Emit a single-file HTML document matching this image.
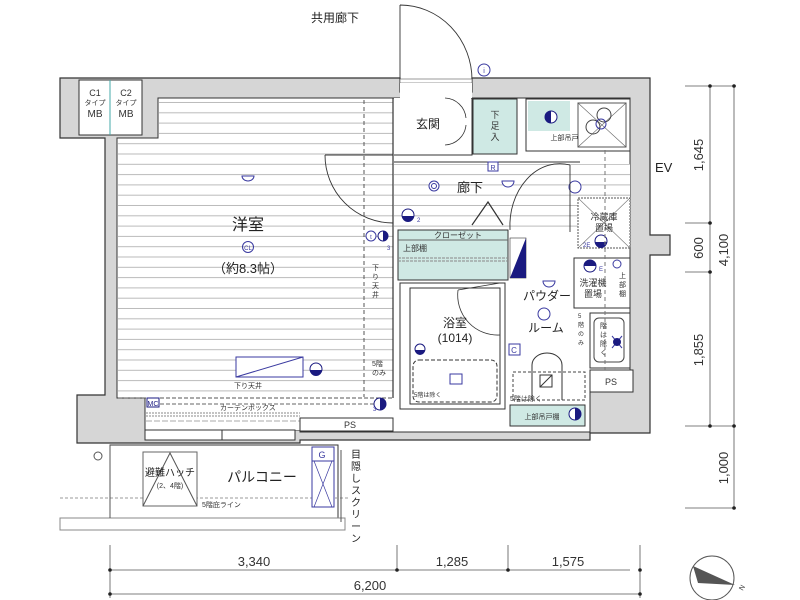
<!DOCTYPE html>
<html><head><meta charset="utf-8"><style>
html,body{margin:0;padding:0;background:#fff;}
svg{display:block;font-family:"Liberation Sans","Noto Sans CJK JP",sans-serif;}
</style></head><body>
<svg width="800" height="600" viewBox="0 0 800 600" xmlns="http://www.w3.org/2000/svg">
<defs>
<pattern id="st" width="10" height="10.3" patternUnits="userSpaceOnUse"><rect width="10" height="10.3" fill="#fff"/><line x1="0" y1="9.8" x2="10" y2="9.8" stroke="#bbb" stroke-width="1"/></pattern>
</defs>
<!-- walls gray -->
<path d="M60,78 H400 V92 H472 V78 H650 V235 H670 V255 H650 V433 H590 V440 H300 V443 H77 V395 H105 V138 H60 Z" fill="#d6d6d6" stroke="#333" stroke-width="1.2"/>
<!-- interior white -->
<path d="M117,138 H158 V98 H630 V370 H633 V392 H590 V432 H300 V430 H145 V398 H117 Z" fill="#fff" stroke="#333" stroke-width="1"/>
<!-- MB boxes -->
<rect x="79" y="80" width="63" height="55" fill="#fff" stroke="#333" stroke-width="1"/>
<line x1="110" y1="80" x2="110" y2="135" stroke="#4aa" stroke-width="1"/>
<text x="95" y="96" font-size="9" text-anchor="middle" fill="#333">C1</text>
<text x="95" y="105" font-size="7" text-anchor="middle" fill="#333">タイプ</text>
<text x="95" y="117" font-size="10" text-anchor="middle" fill="#333">MB</text>
<text x="126" y="96" font-size="9" text-anchor="middle" fill="#333">C2</text>
<text x="126" y="105" font-size="7" text-anchor="middle" fill="#333">タイプ</text>
<text x="126" y="117" font-size="10" text-anchor="middle" fill="#333">MB</text>
<!-- western room stripes -->
<rect x="118" y="139" width="275" height="258" fill="url(#st)"/>
<rect x="159" y="99" width="234" height="40" fill="url(#st)"/>
<line x1="393" y1="98" x2="393" y2="398" stroke="#333" stroke-width="1.2"/>
<line x1="118" y1="398" x2="393" y2="398" stroke="#555" stroke-width="1" stroke-dasharray="4,2"/>
<line x1="364" y1="100" x2="364" y2="397" stroke="#555" stroke-width="1" stroke-dasharray="4,3"/>
<text x="248" y="230" font-size="16" text-anchor="middle" fill="#222">洋室</text>
<circle cx="248" cy="247" r="5.5" fill="none" stroke="#3a3aa0"/><text x="248" y="250" font-size="6" text-anchor="middle" fill="#3a3aa0">CL</text>
<text x="248" y="273" font-size="13" text-anchor="middle" fill="#222">（約8.3帖）</text>
<path d="M242,176 h12 a6,5 0 0 1 -12,0 Z" fill="#fff" stroke="#3a3aa0"/>
<text x="372" y="270" font-size="7" fill="#333">下</text><text x="372" y="279" font-size="7" fill="#333">り</text><text x="372" y="288" font-size="7" fill="#333">天</text><text x="372" y="297" font-size="7" fill="#333">井</text>
<text x="372" y="366" font-size="7" fill="#333">5階</text><text x="372" y="375" font-size="7" fill="#333">のみ</text>
<rect x="236" y="357" width="67" height="20" fill="#fff" stroke="#3a3aa0"/><line x1="236" y1="377" x2="303" y2="357" stroke="#3a3aa0"/>
<circle cx="316" cy="369" r="6" fill="#fff" stroke="#1a1a80"/><path d="M310,370 a6,6 0 0 0 12,0 Z" fill="#1a1a80"/>
<text x="248" y="388" font-size="7" text-anchor="middle" fill="#333">下り天井</text>
<!-- room door arc -->
<path d="M325,155 H393 M325,155 A68,68 0 0 0 393,223" fill="none" stroke="#333" stroke-width="0.9"/>
<circle cx="371" cy="236" r="5" fill="#fff" stroke="#3a3aa0"/><text x="371" y="239" font-size="6" text-anchor="middle" fill="#3a3aa0">t</text>
<circle cx="383" cy="236" r="5" fill="#fff" stroke="#1a1a80"/><path d="M383,231 a5,5 0 0 1 0,10 Z" fill="#1a1a80"/><text x="387" y="250" font-size="6" fill="#3a3aa0">3</text>
<!-- curtain box -->
<rect x="146" y="399" width="247" height="31" fill="#fff"/>
<rect x="147" y="398" width="12" height="9" fill="#fff" stroke="#1a1a80"/><text x="153" y="406" font-size="7" text-anchor="middle" fill="#1a1a80">MC</text>
<line x1="160" y1="404" x2="380" y2="404" stroke="#666" stroke-dasharray="4,2"/>
<text x="220" y="410" font-size="7" fill="#333">カーテンボックス</text>
<line x1="146" y1="413" x2="300" y2="413" stroke="#888" stroke-dasharray="2,1"/>
<line x1="146" y1="416" x2="300" y2="416" stroke="#888" stroke-dasharray="2,1"/>
<line x1="146" y1="421" x2="300" y2="421" stroke="#aaa" stroke-dasharray="6,2"/>
<circle cx="380" cy="404" r="6" fill="#fff" stroke="#1a1a80"/><path d="M380,398 a6,6 0 0 1 0,12 Z" fill="#1a1a80"/><text x="373" y="411" font-size="6" fill="#3a3aa0">3</text>
<rect x="300" y="418" width="93" height="13" fill="#fff" stroke="#333"/><text x="350" y="428" font-size="9" text-anchor="middle" fill="#333">PS</text>
<rect x="145" y="430" width="150" height="10" fill="#fff" stroke="#333"/><line x1="222" y1="430" x2="222" y2="440" stroke="#333"/>
<path d="M216,455 L222,446 L228,455 Z" fill="#1a1a80"/>
<!-- entrance door top -->
<path d="M400,5 V80 M400,5 A72,75 0 0 1 472,80" fill="none" stroke="#333" stroke-width="0.9"/>
<rect x="400" y="79" width="72" height="4" fill="#fff" stroke="#555" stroke-width="0.6"/>
<rect x="400" y="83" width="72" height="15" fill="#fff"/>
<circle cx="484" cy="70" r="6" fill="#fff" stroke="#3a3aa0"/><text x="484" y="73" font-size="7" text-anchor="middle" fill="#3a3aa0">i</text>
<text x="335" y="22" font-size="12" text-anchor="middle" fill="#222">共用廊下</text>
<!-- genkan -->
<rect x="394" y="98" width="77" height="57" fill="#fff"/>
<path d="M394,155 H472 V98" fill="none" stroke="#333"/>
<path d="M445,98 A22,22 0 0 1 466,118 M445,145 A22,22 0 0 0 466,125" fill="none" stroke="#333" stroke-width="0.8"/>
<text x="428" y="128" font-size="12" text-anchor="middle" fill="#222">玄関</text>
<rect x="473" y="99" width="44" height="55" fill="#cfe9e4" stroke="#333"/>
<text x="495" y="118" font-size="9" text-anchor="middle" fill="#333">下</text><text x="495" y="129" font-size="9" text-anchor="middle" fill="#333">足</text><text x="495" y="140" font-size="9" text-anchor="middle" fill="#333">入</text>
<!-- kitchen -->
<rect x="526" y="99" width="104" height="52" fill="#fff" stroke="#333"/>
<rect x="528" y="101" width="42" height="30" fill="#cfe9e4"/>
<circle cx="551" cy="117" r="6" fill="#fff" stroke="#1a1a80"/><path d="M551,111 a6,6 0 0 0 0,12 Z" fill="#1a1a80"/>
<text x="568" y="140" font-size="7" text-anchor="middle" fill="#333">上部吊戸棚</text>
<rect x="578" y="103" width="48" height="44" fill="#fff" stroke="#555"/>
<path d="M578,103 L626,147 M626,103 L578,147" stroke="#666" stroke-width="0.6"/>
<circle cx="593" cy="127" r="7" fill="none" stroke="#444"/><circle cx="604" cy="115" r="7" fill="none" stroke="#444"/><circle cx="601" cy="124" r="5" fill="none" stroke="#3a3aa0"/>
<!-- corridor -->
<rect x="394" y="164" width="236" height="68" fill="url(#st)"/>
<line x1="394" y1="162" x2="580" y2="162" stroke="#333"/>
<rect x="488" y="162" width="10" height="9" fill="#fff" stroke="#3a3aa0"/><text x="493" y="170" font-size="7" text-anchor="middle" fill="#3a3aa0">R</text>
<circle cx="434" cy="186" r="5" fill="#fff" stroke="#3a3aa0"/><circle cx="434" cy="186" r="2.5" fill="none" stroke="#3a3aa0"/>
<text x="470" y="192" font-size="13" text-anchor="middle" fill="#222">廊下</text>
<path d="M502,181 h12 a6,6 0 0 1 -12,0 Z" fill="#fff" stroke="#3a3aa0"/>
<circle cx="575" cy="187" r="6" fill="#fff" stroke="#3a3aa0"/>
<path d="M472,225 L488,202 L503,225" fill="none" stroke="#333" stroke-width="1.2"/>
<path d="M570,165 V232 M570,165 A50,62 0 0 0 510,230" fill="none" stroke="#333" stroke-width="0.9"/>
<circle cx="408" cy="215" r="6" fill="#fff" stroke="#1a1a80"/><path d="M402,216 a6,6 0 0 0 12,0 Z" fill="#1a1a80"/><text x="417" y="222" font-size="6" fill="#3a3aa0">2</text>
<!-- fridge -->
<rect x="578" y="198" width="52" height="50" fill="#fff" stroke="#555" stroke-dasharray="2,1"/>
<path d="M578,198 L630,248 M630,198 L578,248" stroke="#777" stroke-width="0.6"/>
<text x="604" y="220" font-size="9" text-anchor="middle" fill="#333">冷蔵庫</text><text x="604" y="231" font-size="9" text-anchor="middle" fill="#333">置場</text>
<circle cx="601" cy="241" r="6" fill="#fff" stroke="#1a1a80"/><path d="M595,242 a6,6 0 0 0 12,0 Z" fill="#1a1a80"/>
<text x="583" y="247" font-size="6" fill="#3a3aa0">2E</text>
<!-- closet -->
<rect x="398" y="230" width="110" height="50" fill="#cfe9e4" stroke="#333"/>
<text x="458" y="238" font-size="8" text-anchor="middle" fill="#333">クローゼット</text>
<line x1="398" y1="240" x2="508" y2="240" stroke="#666"/>
<text x="403" y="251" font-size="8" fill="#333">上部棚</text>
<line x1="398" y1="258" x2="508" y2="258" stroke="#888" stroke-dasharray="3,1"/>
<line x1="398" y1="261" x2="508" y2="261" stroke="#888" stroke-dasharray="3,1"/>
<rect x="510" y="238" width="16" height="40" fill="#fff" stroke="#333" stroke-width="0.6"/><path d="M510,278 L526,238 V278 Z" fill="#1a1a80"/>
<!-- bathroom -->
<rect x="400" y="283" width="105" height="126" fill="#fff" stroke="#333"/>
<rect x="410" y="288" width="90" height="116" fill="#fff" stroke="#333"/>
<path d="M458,290 L500,283 M458,290 A40,40 0 0 0 500,335" fill="none" stroke="#333" stroke-width="0.8"/>
<text x="455" y="327" font-size="12" text-anchor="middle" fill="#222">浴室</text>
<text x="455" y="342" font-size="12" text-anchor="middle" fill="#222">(1014)</text>
<rect x="413" y="360" width="84" height="42" rx="6" fill="#fff" stroke="#333" stroke-dasharray="4,2"/>
<rect x="450" y="374" width="12" height="10" fill="#fff" stroke="#3a3aa0"/>
<text x="414" y="397" font-size="6" fill="#333">5階は除く</text>
<circle cx="420" cy="349" r="5" fill="#fff" stroke="#1a1a80"/><path d="M415,350 a5,5 0 0 0 10,0 Z" fill="#1a1a80"/>
<!-- powder room -->
<path d="M543,281 h12 a6,6 0 0 1 -12,0 Z" fill="#fff" stroke="#3a3aa0"/>
<text x="547" y="300" font-size="12" text-anchor="middle" fill="#222">パウダー</text>
<circle cx="544" cy="314" r="6" fill="#fff" stroke="#3a3aa0"/>
<text x="546" y="332" font-size="12" text-anchor="middle" fill="#222">ルーム</text>
<rect x="509" y="344" width="11" height="11" fill="#fff" stroke="#3a3aa0"/><text x="514" y="353" font-size="8" text-anchor="middle" fill="#3a3aa0">C</text>
<!-- washer -->
<rect x="574" y="258" width="56" height="50" fill="#fff" stroke="#333"/>
<text x="593" y="286" font-size="9" text-anchor="middle" fill="#333">洗濯機</text><text x="593" y="297" font-size="9" text-anchor="middle" fill="#333">置場</text>
<text x="619" y="278" font-size="7" fill="#333">上</text><text x="619" y="287" font-size="7" fill="#333">部</text><text x="619" y="296" font-size="7" fill="#333">棚</text>
<circle cx="590" cy="266" r="6" fill="#fff" stroke="#1a1a80"/><path d="M584,266 a6,6 0 0 1 12,0 Z" fill="#1a1a80"/><text x="599" y="271" font-size="6" fill="#3a3aa0">E</text>
<circle cx="617" cy="264" r="4" fill="none" stroke="#3a3aa0"/>
<!-- basin -->
<rect x="590" y="313" width="40" height="55" fill="#fff" stroke="#333"/>
<rect x="594" y="318" width="30" height="44" rx="5" fill="#fff" stroke="#444"/>
<text x="578" y="318" font-size="6" fill="#333">5</text><text x="578" y="327" font-size="6" fill="#333">階</text><text x="578" y="336" font-size="6" fill="#333">の</text><text x="578" y="345" font-size="6" fill="#333">み</text>
<text x="600" y="328" font-size="7" fill="#333">階</text><text x="600" y="337" font-size="7" fill="#333">は</text><text x="600" y="346" font-size="7" fill="#333">除</text><text x="600" y="355" font-size="7" fill="#333">く</text>
<path d="M612,336 L622,348 M622,336 L612,348" stroke="#3a3aa0"/><circle cx="617" cy="342" r="4" fill="#1a1a80"/>
<rect x="590" y="370" width="43" height="22" fill="#fff" stroke="#333"/><text x="611" y="385" font-size="9" text-anchor="middle" fill="#333">PS</text>
<!-- toilet -->
<path d="M532,400 V365 a15,12 0 0 1 30,0 V400" fill="#fff" stroke="#333"/>
<rect x="540" y="375" width="12" height="12" fill="#fff" stroke="#333"/><line x1="540" y1="387" x2="552" y2="375" stroke="#333"/>
<rect x="513" y="372" width="72" height="28" fill="none" stroke="#444" stroke-dasharray="3,2"/>
<text x="510" y="401" font-size="7" fill="#333">5階は除く</text>
<rect x="510" y="405" width="75" height="21" fill="#cfe9e4" stroke="#333"/><text x="542" y="419" font-size="7" text-anchor="middle" fill="#333">上部吊戸棚</text>
<circle cx="575" cy="414" r="6" fill="#fff" stroke="#1a1a80"/><path d="M575,408 a6,6 0 0 1 0,12 Z" fill="#1a1a80"/>
<line x1="605" y1="150" x2="605" y2="370" stroke="#777" stroke-dasharray="4,3"/>
<text x="655" y="172" font-size="13" fill="#222">EV</text>
<!-- balcony -->
<rect x="110" y="445" width="228" height="73" fill="#fff" stroke="#333"/>
<rect x="60" y="518" width="285" height="12" fill="#fff" stroke="#888"/>
<line x1="60" y1="498" x2="350" y2="498" stroke="#999" stroke-dasharray="3,2"/>
<circle cx="98" cy="456" r="4" fill="none" stroke="#555"/>
<line x1="110" y1="445" x2="110" y2="518" stroke="#555"/>
<rect x="143" y="452" width="54" height="54" fill="#fff" stroke="#666"/>
<path d="M143,506 L170,453 L197,506" fill="none" stroke="#555"/>
<text x="170" y="476" font-size="10" text-anchor="middle" fill="#222">避難ハッチ</text>
<text x="170" y="488" font-size="7" text-anchor="middle" fill="#333">(2、4階)</text>
<text x="202" y="507" font-size="7" fill="#333">5階庇ライン</text>
<text x="262" y="482" font-size="14" text-anchor="middle" fill="#222">パルコニー</text>
<rect x="312" y="447" width="22" height="60" fill="#fff" stroke="#3a3aa0"/>
<rect x="312" y="447" width="22" height="14" fill="#fff" stroke="#3a3aa0"/><text x="322" y="458" font-size="9" text-anchor="middle" fill="#3a3aa0">G</text>
<path d="M314,461 L332,507 M332,461 L314,507" stroke="#3a3aa0" stroke-width="0.7"/>
<line x1="341" y1="450" x2="341" y2="522" stroke="#555"/>
<text x="351" y="458" font-size="10" fill="#222">目</text><text x="351" y="470" font-size="10" fill="#222">隠</text><text x="351" y="482" font-size="10" fill="#222">し</text><text x="351" y="494" font-size="10" fill="#222">ス</text><text x="351" y="506" font-size="10" fill="#222">ク</text><text x="351" y="518" font-size="10" fill="#222">リ</text><text x="351" y="530" font-size="10" fill="#222">ー</text><text x="351" y="542" font-size="10" fill="#222">ン</text>
<!-- bottom dims -->
<g stroke="#555" stroke-width="0.8" fill="none">
<line x1="110" y1="545" x2="110" y2="598"/><line x1="110" y1="570" x2="630" y2="570"/><line x1="110" y1="594" x2="640" y2="594"/>
<line x1="397" y1="545" x2="397" y2="570"/><line x1="508" y1="545" x2="508" y2="570"/><line x1="640" y1="545" x2="640" y2="598"/>
</g>
<g fill="#222"><circle cx="110" cy="570" r="1.8"/><circle cx="397" cy="570" r="1.8"/><circle cx="508" cy="570" r="1.8"/><circle cx="640" cy="570" r="1.8"/><circle cx="110" cy="594" r="1.8"/><circle cx="640" cy="594" r="1.8"/></g>
<g font-size="13" fill="#333" text-anchor="middle">
<text x="254" y="566">3,340</text><text x="452" y="566">1,285</text><text x="568" y="566">1,575</text><text x="370" y="590">6,200</text>
</g>
<!-- right dims -->
<g stroke="#555" stroke-width="0.8" fill="none">
<line x1="710" y1="86" x2="710" y2="426"/><line x1="734" y1="86" x2="734" y2="508"/>
<line x1="685" y1="86" x2="736" y2="86"/><line x1="685" y1="223" x2="712" y2="223"/><line x1="685" y1="272" x2="712" y2="272"/>
<line x1="685" y1="426" x2="736" y2="426"/><line x1="685" y1="508" x2="736" y2="508"/>
</g>
<g fill="#222"><circle cx="710" cy="86" r="1.8"/><circle cx="734" cy="86" r="1.8"/><circle cx="710" cy="223" r="1.8"/><circle cx="710" cy="272" r="1.8"/><circle cx="710" cy="426" r="1.8"/><circle cx="734" cy="426" r="1.8"/><circle cx="734" cy="508" r="1.8"/></g>
<g font-size="13" fill="#333" text-anchor="middle">
<text transform="translate(703,155) rotate(-90)">1,645</text>
<text transform="translate(703,248) rotate(-90)">600</text>
<text transform="translate(703,350) rotate(-90)">1,855</text>
<text transform="translate(728,250) rotate(-90)">4,100</text>
<text transform="translate(728,468) rotate(-90)">1,000</text>
</g>
<!-- compass -->
<circle cx="712" cy="578" r="22" fill="#fff" stroke="#555"/>
<path d="M693,566 L735,585 L698,583 Z" fill="#555"/>
<text x="741" y="592" font-size="7" fill="#333" transform="rotate(-60,741,590)">N</text>
</svg>
</body></html>
